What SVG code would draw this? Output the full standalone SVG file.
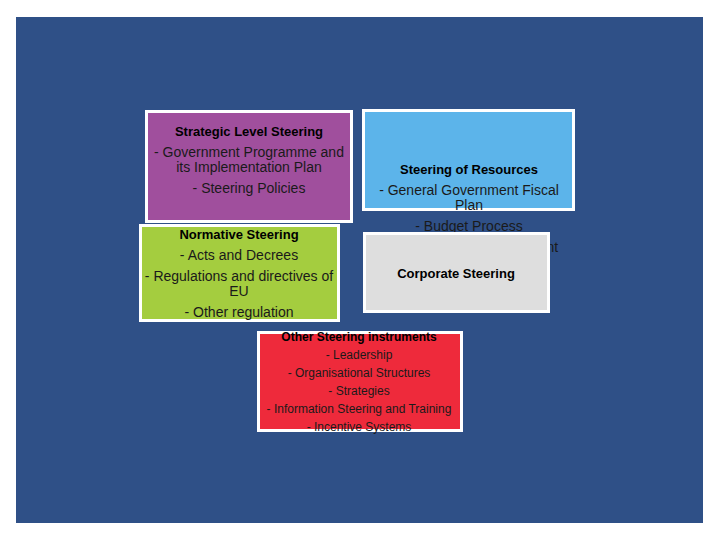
<svg xmlns="http://www.w3.org/2000/svg" width="720" height="540" viewBox="0 0 720 540">
<style>
.box{stroke:#FFFFFF;stroke-width:3}
text{font-family:"Liberation Sans",Arial,sans-serif;fill:#1a1a1a;text-anchor:middle}
.t{font-size:13px;font-weight:bold;fill:#000}
.b{font-size:14px}
.st{font-size:12px;font-weight:bold;fill:#000}
.s{font-size:12px}
</style>
<rect x="0" y="0" width="720" height="540" fill="#FFFFFF"/>
<rect x="16" y="17" width="687" height="506" fill="#2F5087"/>
<g id="connectors"></g>
<g id="strategic">
<rect class="box" x="146.5" y="111.5" width="205" height="110" fill="#A04F9D"/>
<text class="t" x="249" y="135.5">Strategic Level Steering</text>
<text class="b" x="249" y="157">- Government Programme and</text>
<text class="b" x="249" y="172">its Implementation Plan</text>
<text class="b" x="249" y="193">- Steering Policies</text>
</g>
<g id="resources">
<rect class="box" x="363.5" y="110.5" width="210" height="99" fill="#5CB4EA"/>
<text class="t" x="469" y="173.5">Steering of Resources</text>
<text class="b" x="469" y="195">- General Government Fiscal</text>
<text class="b" x="469" y="210">Plan</text>
<text class="b" x="469" y="231">- Budget Process</text>
<text class="b" x="471" y="252">- Performance Management</text>
</g>
<g id="normative">
<rect class="box" x="140.5" y="225.5" width="198" height="95" fill="#A4CD3F"/>
<text class="t" x="239" y="238.5">Normative Steering</text>
<text class="b" x="239" y="260">- Acts and Decrees</text>
<text class="b" x="239" y="281">- Regulations and directives of</text>
<text class="b" x="239" y="296">EU</text>
<text class="b" x="239" y="317">- Other regulation</text>
</g>
<g id="corporate">
<rect class="box" x="364.5" y="233.5" width="184" height="78" fill="#DEDEDE"/>
<text class="t" x="456" y="277.5">Corporate Steering</text>
</g>
<g id="other">
<rect class="box" x="258.5" y="332.5" width="203" height="98" fill="#EE2A3B"/>
<text class="st" x="359" y="340.5">Other Steering instruments</text>
<text class="s" x="359" y="358.5">- Leadership</text>
<text class="s" x="359" y="376.5">- Organisational Structures</text>
<text class="s" x="359" y="394.5">- Strategies</text>
<text class="s" x="359" y="412.5">- Information Steering and Training</text>
<text class="s" x="359" y="430.5">- Incentive Systems</text>
</g>
</svg>
